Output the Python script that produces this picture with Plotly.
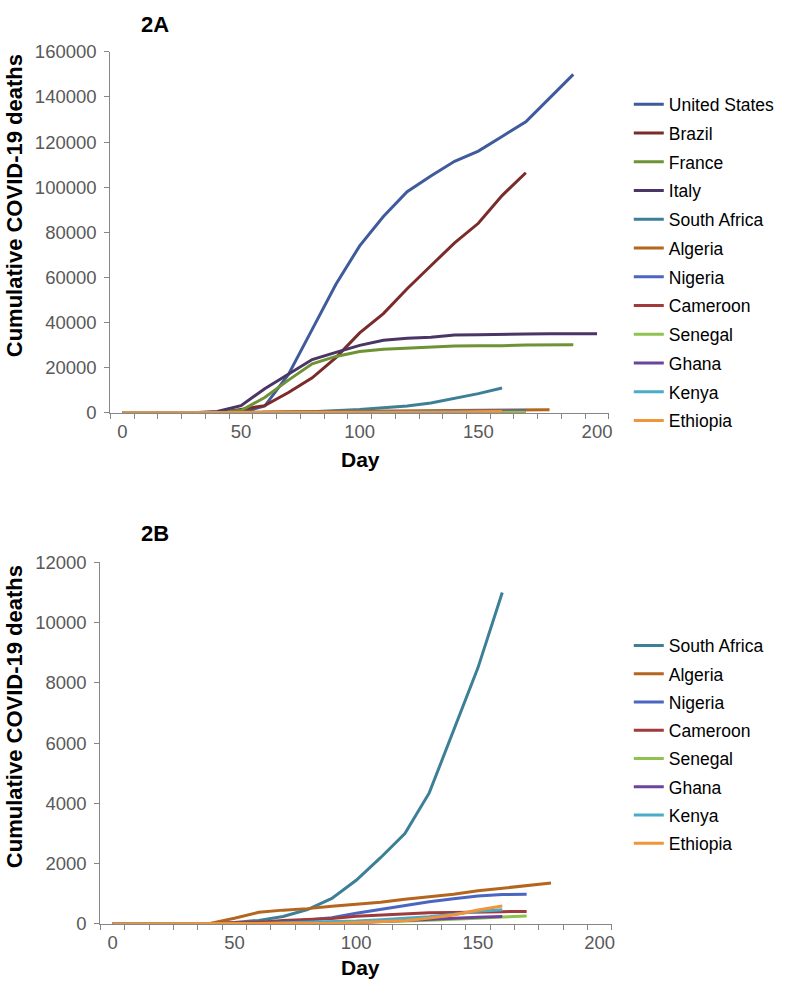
import plotly.graph_objects as go

days = [0, 10, 20, 30, 40, 50, 60, 70, 80, 90, 100, 110, 120, 130, 140, 150, 160, 170, 180, 190, 200]

# Figure 2A series (cumulative deaths, sampled every 10 days)
us = [0, 0, 0, 0, 0, 100, 3000, 17000, 37000, 57000, 74000, 87000, 98000, 105000, 111500, 116000, 122500, 129000, 139500, 150000]
brazil = [0, 0, 0, 0, 0, 1500, 3200, 9000, 15500, 24500, 35400, 44000, 55000, 65200, 75300, 84000, 96300, 106400]
france = [0, 0, 0, 0, 300, 1000, 6800, 14500, 21700, 25000, 27200, 28200, 28700, 29100, 29600, 29700, 29700, 30100, 30200, 30200]
italy = [0, 0, 0, 0, 600, 3200, 10700, 17000, 23600, 26800, 29900, 32200, 33100, 33500, 34500, 34600, 34600, 34900, 35000, 35000, 35100]
south_africa = [0, 0, 0, 0, 20, 50, 120, 250, 480, 850, 1450, 2200, 3000, 4350, 6400, 8500, 11000]
algeria = [0, 0, 0, 0, 20, 190, 390, 460, 510, 590, 650, 720, 820, 900, 990, 1100, 1190, 1260, 1360]
nigeria = [0, 0, 0, 0, 2, 10, 35, 70, 130, 210, 360, 490, 620, 740, 840, 930, 975, 985]
cameroon = [0, 0, 0, 0, 10, 40, 60, 120, 160, 180, 260, 300, 330, 370, 380, 400, 410, 415]
senegal = [0, 0, 0, 0, 0, 5, 9, 15, 25, 40, 60, 80, 100, 125, 150, 190, 230, 265]
ghana = [0, 0, 0, 0, 0, 5, 10, 20, 30, 35, 50, 80, 120, 150, 180, 220, 250]
kenya = [0, 0, 0, 0, 0, 10, 20, 40, 55, 70, 100, 140, 190, 240, 320, 420, 470]
ethiopia = [0, 0, 0, 0, 0, 3, 5, 5, 10, 20, 50, 80, 110, 195, 300, 465, 600]

series_a = [
    ("United States", us, "#3f5b9c"),
    ("Brazil", brazil, "#7a2c2a"),
    ("France", france, "#6e9234"),
    ("Italy", italy, "#4b3567"),
    ("South Africa", south_africa, "#3d7f97"),
    ("Algeria", algeria, "#b4661f"),
    ("Nigeria", nigeria, "#4a66c2"),
    ("Cameroon", cameroon, "#a03a3c"),
    ("Senegal", senegal, "#8fc24f"),
    ("Ghana", ghana, "#6d449c"),
    ("Kenya", kenya, "#4bacc6"),
    ("Ethiopia", ethiopia, "#f0953a"),
]
series_b = series_a[4:]

W, H = 787, 994
FONT = "Arial, 'Liberation Sans', sans-serif"
TICKC = "#595959"
AXC = "#868686"

fig = go.Figure()
for name, vals, col in series_a:
    fig.add_trace(go.Scatter(
        x=days[:len(vals)], y=vals, name=name, mode="lines",
        line=dict(color=col, width=3), xaxis="x", yaxis="y",
        legend="legend", legendgroup="a_" + name))
for name, vals, col in series_b:
    fig.add_trace(go.Scatter(
        x=days[:len(vals)], y=vals, name=name, mode="lines",
        line=dict(color=col, width=3), xaxis="x2", yaxis="y2",
        legend="legend2", legendgroup="b_" + name))

def px_x(p):
    return p / W

def px_y(p):
    return 1 - p / H

xcommon = dict(
    range=[-5, 205], tickvals=[0, 50, 100, 150, 200], ticks="",
    showline=True, linecolor=AXC, linewidth=1.3, showgrid=False, zeroline=False,
    tickfont=dict(family=FONT, size=18.5, color=TICKC), ticklabelstandoff=2,
    minor=dict(ticks="outside", tick0=5, dtick=10, ticklen=5, tickcolor=AXC, showgrid=False),
)
ycommon = dict(
    showline=True, linecolor=AXC, linewidth=1.3, showgrid=False, zeroline=False,
    ticks="outside", ticklen=5, tickcolor=AXC, tickformat="d", ticklabelstandoff=4,
    tickfont=dict(family=FONT, size=18.5, color=TICKC),
)

fig.update_layout(
    width=W, height=H, plot_bgcolor="white", paper_bgcolor="white",
    margin=dict(l=0, r=0, t=0, b=0),
    xaxis=dict(domain=[px_x(111), px_x(612)], anchor="y", **xcommon),
    yaxis=dict(domain=[px_y(410.5), px_y(41.7)], anchor="x", range=[0, 160000], dtick=20000, **ycommon),
    xaxis2=dict(domain=[px_x(101), px_x(615)], anchor="y2", **xcommon),
    yaxis2=dict(domain=[px_y(932.7), px_y(563.3)], anchor="x2", range=[0, 12000], dtick=2000, **ycommon),
    legend=dict(x=px_x(632), y=px_y(77), xanchor="left", yanchor="top",
                font=dict(family=FONT, size=17.5, color="#000000"),
                tracegroupgap=3, bgcolor="rgba(0,0,0,0)"),
    legend2=dict(x=px_x(632), y=px_y(630), xanchor="left", yanchor="top",
                 font=dict(family=FONT, size=17.5, color="#000000"),
                 tracegroupgap=2.5, bgcolor="rgba(0,0,0,0)"),
    showlegend=True,
)

ann = [
    dict(text="<b>2A</b>", x=px_x(156), y=px_y(14)),
    dict(text="<b>2B</b>", x=px_x(156), y=px_y(534)),
]
for a in ann:
    fig.add_annotation(xref="paper", yref="paper", x=a["x"], y=a["y"], text=a["text"],
                       showarrow=False, xanchor="center", yanchor="middle",
                       font=dict(family=FONT, size=22, color="#000000"))
for yy in (px_y(458), px_y(977)):
    fig.add_annotation(xref="paper", yref="paper", x=px_x(362), y=yy, text="<b>Day</b>",
                       showarrow=False, xanchor="center", yanchor="middle",
                       font=dict(family=FONT, size=21, color="#000000"))
for yy in (px_y(199), px_y(721)):
    fig.add_annotation(xref="paper", yref="paper", x=px_x(14.5), y=yy,
                       text="<b>Cumulative COVID-19 deaths</b>", textangle=-90,
                       showarrow=False, xanchor="center", yanchor="middle",
                       font=dict(family=FONT, size=22, color="#000000"))

fig.write_html("out.html", config={"displayModeBar": False},
               post_script="document.body.style.margin='0px';")
